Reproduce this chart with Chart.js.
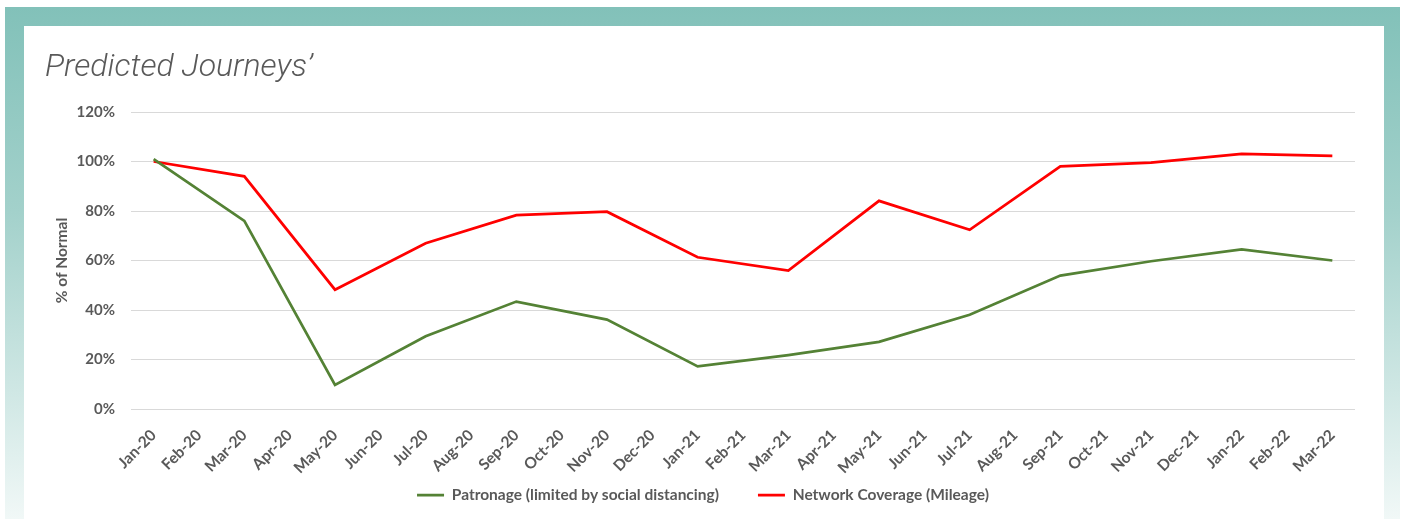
<!DOCTYPE html>
<html>
<head>
<meta charset="utf-8">
<script src="https://cdn.jsdelivr.net/npm/chart.js@4/dist/chart.umd.min.js"></script>
<style>
  html, body { margin: 0; padding: 0; background: #fff; width: 1403px; height: 519px; overflow: hidden; }
  #frame {
    position: absolute; left: 5px; top: 7px; width: 1395px; height: 512px;
    background: linear-gradient(to bottom, #82c1b9 0%, #a3d1cb 40%, #cfe7e4 75%, #f1f8f7 100%);
  }
  #panel { position: absolute; left: 24px; top: 26px; width: 1360px; height: 493px; background: #fff; }
  #title {
    position: absolute; left: 45px; top: 46px;
    font-family: Roboto, "Liberation Sans", sans-serif; font-weight: 300; font-style: italic;
    font-size: 32px; color: #595959; white-space: nowrap;
  }
  #chart { position: absolute; left: 0; top: 0; }
</style>
</head>
<body>
<div id="frame"></div>
<div id="panel"><canvas id="chart" width="1360" height="493"></canvas></div>
<div id="title">Predicted Journeys’</div>
<script>
// months on the x axis
const labels = [
  "Jan-20", "Feb-20", "Mar-20", "Apr-20", "May-20", "Jun-20", "Jul-20", "Aug-20", "Sep-20",
  "Oct-20", "Nov-20", "Dec-20", "Jan-21", "Feb-21", "Mar-21", "Apr-21", "May-21", "Jun-21",
  "Jul-21", "Aug-21", "Sep-21", "Oct-21", "Nov-21", "Dec-21", "Jan-22", "Feb-22", "Mar-22"
];

// % of normal, one reading every second month (gaps are joined)
const patronage = [
  101, null, 76, null, 9.7, null, 29.4, null, 43.4, null, 36.1, null, 17.2, null,
  21.8, null, 27.1, null, 38.1, null, 53.9, null, 59.7, null, 64.5, null, 60
];
const coverage = [
  100, null, 94, null, 48.2, null, 67, null, 78.3, null, 79.7, null, 61.3, null,
  55.9, null, 84.1, null, 72.4, null, 98, null, 99.5, null, 103.1, null, 102.3
];

const yTicks = [0, 20, 40, 60, 80, 100, 120];

const grey = "#595959";
const font = "Lato, 'Open Sans', sans-serif";

// let the rotated month labels run past the axis box (the legend sits beside them)
const labelRoom = {
  id: "labelRoom",
  afterLayout(chart) {
    chart.scales.x.bottom = chart.height;
  }
};

new Chart(document.getElementById("chart"), {
  type: "line",
  data: {
    labels,
    datasets: [
      {
        label: "Patronage (limited by social distancing)",
        data: patronage,
        borderColor: "#548235",
        backgroundColor: "#548235",
        borderWidth: 2.75,
        pointRadius: 0,
        spanGaps: true,
        tension: 0
      },
      {
        label: "Network Coverage (Mileage)",
        data: coverage,
        borderColor: "#ff0000",
        backgroundColor: "#ff0000",
        borderWidth: 2.75,
        pointRadius: 0,
        spanGaps: true,
        tension: 0
      }
    ]
  },
  plugins: [labelRoom],
  options: {
    responsive: false,
    animation: false,
    layout: { padding: { top: 86, right: 29, left: 27, bottom: 6.25 } },
    plugins: {
      tooltip: { enabled: false },
      legend: {
        position: "bottom",
        labels: {
          usePointStyle: true,
          pointStyle: "line",
          pointStyleWidth: 27,
          color: grey,
          padding: 39,
          font: { family: font, size: 15.5, weight: "bold" }
        }
      }
    },
    scales: {
      x: {
        offset: true,
        afterFit: (scale) => { scale.height = 39.25; },
        grid: { display: false, drawTicks: false },
        border: { display: false },
        ticks: {
          color: grey,
          maxRotation: 45,
          minRotation: 45,
          autoSkip: false,
          padding: 17,
          font: { family: font, size: 15.5, weight: "bold" }
        }
      },
      y: {
        min: 0,
        max: 120,
        afterFit: (scale) => { scale.width = 80; },
        afterBuildTicks: (scale) => { scale.ticks = yTicks.map((v) => ({ value: v })); },
        grid: { color: "#d9d9d9", drawTicks: false },
        border: { display: false },
        title: {
          display: true,
          text: "% of Normal",
          color: grey,
          padding: { top: 2, bottom: 0 },
          font: { family: font, size: 15.5, weight: "bold" }
        },
        ticks: {
          color: grey,
          padding: 16,
          callback: (v) => v + "%",
          font: { family: font, size: 15, weight: "bold" }
        }
      }
    }
  }
});
</script>
</body>
</html>
